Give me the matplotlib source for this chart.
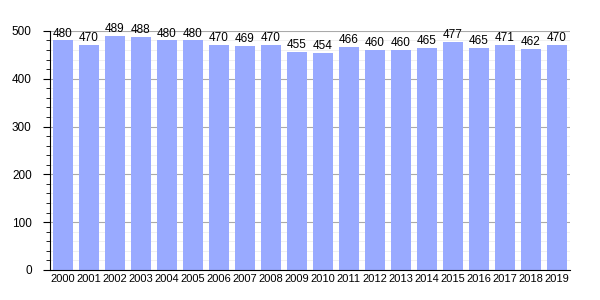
import matplotlib
matplotlib.use("Agg")
import matplotlib.pyplot as plt
from matplotlib.ticker import MultipleLocator

plt.rcParams["font.family"] = ["Liberation Sans", "DejaVu Sans"]

years = [str(y) for y in range(2000, 2020)]
values = [480, 470, 489, 488, 480, 480, 470, 469, 470, 455,
          454, 466, 460, 460, 465, 477, 465, 471, 462, 470]

fig = plt.figure(figsize=(6, 3), dpi=100)
ax = fig.add_axes([0.083, 0.1, 0.867, 0.797])
x = list(range(len(years)))
ax.bar(x, values, width=0.77, color="#99aaff", zorder=2)
for xi, v in zip(x, values):
    ax.text(xi, v + 2, str(v), ha="center", va="bottom", fontsize=8.5, color="#000000", zorder=3)

ax.set_xlim(-0.5, len(years) - 0.5)
ax.set_ylim(0, 500)
ax.set_xticks(x)
ax.set_xticklabels(years, fontsize=8)
ax.yaxis.set_major_locator(MultipleLocator(100))
ax.yaxis.set_minor_locator(MultipleLocator(20))
ax.tick_params(axis="y", labelsize=8.5, length=5, direction="out", pad=8)
ax.tick_params(axis="y", which="minor", length=3, direction="out")
ax.tick_params(axis="x", length=0, pad=3)
ax.grid(axis="y", which="major", color="#aaaaaa", linewidth=0.8, zorder=0)
ax.grid(axis="y", which="minor", color="#eeeeee", linewidth=0.6, zorder=0)
ax.set_axisbelow(True)
for s in ["top", "right"]:
    ax.spines[s].set_visible(False)
ax.spines["left"].set_color("black")
ax.spines["bottom"].set_color("black")
fig.savefig("out.png", dpi=100)
